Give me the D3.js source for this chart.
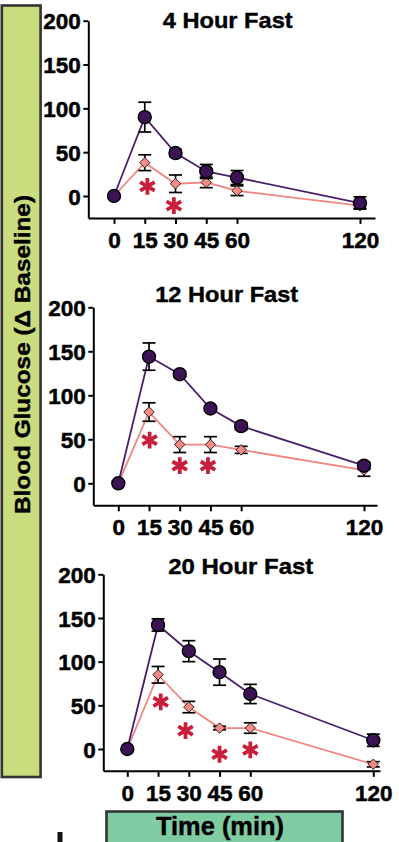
<!DOCTYPE html>
<html>
<head>
<meta charset="utf-8">
<script src="https://cdn.jsdelivr.net/npm/d3@7"></script>
<style>
  body { margin: 0; background: #fff; }
  svg { display: block; font-family: "Liberation Sans", Arial, sans-serif; font-weight: bold; }
</style>
</head>
<body>
<svg id="chart" width="399" height="842"></svg>
<script>
// Sampling times (min) and axis ticks
const times = [0, 15, 30, 45, 60, 120];
const xTickLabels = ["0", "15", "30", "45", "60", "120"];
const yTicks = [0, 50, 100, 150, 200];
const yMin = -25, yMax = 200;

const panelTitles = ["4 Hour Fast", "12 Hour Fast", "20 Hour Fast"];

// Blood glucose change from baseline (mean, error) — dark series
const dark4h = [0, 90, 49, 28, 21, -8];
const dark4hErr = [0, 17, 4, 8, 8, 7];
const dark12h = [0, 144, 124, 85, 65, 20];
const dark12hErr = [0, 15.5, 3, 3, 4, 4];
const dark20h = [0, 142, 112, 88, 63, 10];
const dark20hErr = [0, 7, 12, 15, 11, 7];

// Blood glucose change from baseline (mean, error) — light series
const light4h = [0, 38, 14, 15.5, 6, -11];
const light4hErr = [0, 9, 10, 6, 5.5, 3];
const light12h = [0, 81, 44, 44, 38, 15];
const light12hErr = [0, 10.5, 9, 9, 4, 7];
const light20h = [0, 85, 48, 24, 24, -17.5];
const light20hErr = [0, 9.5, 6.5, 2, 6, 3];

// Significance markers: [time, glucose level at which the star sits]
const stars4h = [[16.3, 11], [29.2, -11]];
const stars12h = [[15.3, 49], [30, 20], [43.8, 20]];
const stars20h = [[16.3, 54], [28.4, 21], [45, -6], [60, -1]];

const yAxisTitle = "Blood Glucose (\u0394 Baseline)";
const xAxisTitle = "Time (min)";

const darkSeries = [dark4h, dark12h, dark20h];
const darkErrors = [dark4hErr, dark12hErr, dark20hErr];
const lightSeries = [light4h, light12h, light20h];
const lightErrors = [light4hErr, light12hErr, light20hErr];
const starSets = [stars4h, stars12h, stars20h];

// Panel placement on the page
const panels = [
  { left: 88.3, right: 375, x0: 114, x120: 360, yTop: 20.7, yZero: 196, titleX: 227.7, titleY: 28.3, titleLen: 130 },
  { left: 93.3, right: 377, x0: 118.3, x120: 364, yTop: 307.3, yZero: 483.3, titleX: 226.7, titleY: 301.7, titleLen: 143 },
  { left: 103.3, right: 380, x0: 127.3, x120: 373.3, yTop: 574.3, yZero: 749, titleX: 240.8, titleY: 574, titleLen: 145 }
];

const colors = {
  dark: "#3c1456", darkLine: "#4a1f6c",
  light: "#f28a85", lightLine: "#f08581",
  star: "#c8203a", axis: "#000"
};

const svg = d3.select("#chart");

// Heavy text helper: bold glyphs with a thin matching outline
function heavy(sel, w) {
  return sel.attr("fill", "#000").attr("stroke", "#000").attr("stroke-width", w).attr("paint-order", "stroke");
}

// Side label boxes
svg.append("rect")
  .attr("x", 1.8).attr("y", 5.5).attr("width", 38.8).attr("height", 771.5)
  .attr("fill", "#c9dc7e").attr("stroke", "#333").attr("stroke-width", 2.6);
heavy(svg.append("text")
  .attr("transform", "translate(29.5,354.5) rotate(-90)")
  .attr("text-anchor", "middle")
  .attr("font-size", 22.5)
  .attr("textLength", 319).attr("lengthAdjust", "spacingAndGlyphs")
  .text(yAxisTitle), 0.4);

svg.append("rect")
  .attr("x", 106.5).attr("y", 811.5).attr("width", 236).attr("height", 45)
  .attr("fill", "#7fcba2").attr("stroke", "#333").attr("stroke-width", 2.6);
heavy(svg.append("text")
  .attr("x", 220).attr("y", 835)
  .attr("text-anchor", "middle")
  .attr("font-size", 25)
  .attr("textLength", 128).attr("lengthAdjust", "spacingAndGlyphs")
  .text(xAxisTitle), 0.4);

svg.append("rect")
  .attr("x", 57.5).attr("y", 832).attr("width", 5).attr("height", 10)
  .attr("fill", "#111");

panels.forEach((p, i) => {
  // x: minutes -> px, extended to the drawn axis span
  const base = d3.scaleLinear().domain([0, 120]).range([p.x0, p.x120]);
  const x = d3.scaleLinear().domain([base.invert(p.left), base.invert(p.right)]).range([p.left, p.right]);
  // y: glucose -> px
  const yBase = d3.scaleLinear().domain([0, 200]).range([p.yZero, p.yTop]);
  const y = d3.scaleLinear().domain([yMin, yMax]).range([yBase(yMin), yBase(yMax)]);

  const g = svg.append("g");

  // Axes
  const yAxis = d3.axisLeft(y).tickValues(yTicks).tickSize(5).tickSizeOuter(0).tickPadding(2.5);
  const gy = g.append("g").attr("transform", `translate(${p.left},0)`).call(yAxis);
  const xAxis = d3.axisBottom(x).tickValues(times)
    .tickFormat((d, k) => xTickLabels[k]).tickSize(6).tickSizeOuter(0);
  const gx = g.append("g").attr("transform", `translate(0,${y(yMin)})`).call(xAxis);

  [gx, gy].forEach(a => {
    a.select(".domain").attr("stroke", colors.axis).attr("stroke-width", 2);
    a.selectAll(".tick line").attr("stroke", colors.axis).attr("stroke-width", 2);
    heavy(a.selectAll(".tick text")
      .attr("font-size", 22.5)
      .attr("font-family", "'Liberation Sans', Arial, sans-serif")
      .attr("font-weight", "bold"), 0.5);
  });
  gx.selectAll(".tick text").attr("y", 30).attr("dy", 0);
  gy.selectAll(".tick text").attr("dy", "0.36em");

  // Title
  heavy(g.append("text")
    .attr("x", p.titleX).attr("y", p.titleY)
    .attr("text-anchor", "middle")
    .attr("font-size", 21.5)
    .attr("textLength", p.titleLen).attr("lengthAdjust", "spacingAndGlyphs")
    .text(panelTitles[i]), 0.4);

  const line = d3.line().x((d, k) => x(times[k])).y(d => y(d));

  function errorBars(vals, errs) {
    const eb = g.append("g").attr("stroke", "#000").attr("stroke-width", 1.7).attr("fill", "none");
    vals.forEach((v, k) => {
      const e = errs[k];
      if (!e) return;
      const cx = x(times[k]);
      eb.append("line").attr("x1", cx).attr("x2", cx).attr("y1", y(v - e)).attr("y2", y(v + e));
      eb.append("line").attr("x1", cx - 6.5).attr("x2", cx + 6.5).attr("y1", y(v + e)).attr("y2", y(v + e));
      eb.append("line").attr("x1", cx - 6.5).attr("x2", cx + 6.5).attr("y1", y(v - e)).attr("y2", y(v - e));
    });
  }

  // Light series
  g.append("path").datum(lightSeries[i]).attr("d", line)
    .attr("fill", "none").attr("stroke", colors.lightLine).attr("stroke-width", 1.8);
  errorBars(lightSeries[i], lightErrors[i]);
  g.append("g").selectAll("path").data(lightSeries[i]).join("path")
    .attr("d", d3.symbol(d3.symbolSquare, 54))
    .attr("transform", (d, k) => `translate(${x(times[k])},${y(d)}) rotate(45)`)
    .attr("fill", colors.light).attr("stroke", "#2a1a1a").attr("stroke-width", 0.9);

  // Dark series
  g.append("path").datum(darkSeries[i]).attr("d", line)
    .attr("fill", "none").attr("stroke", colors.darkLine).attr("stroke-width", 1.8);
  errorBars(darkSeries[i], darkErrors[i]);
  g.append("g").selectAll("circle").data(darkSeries[i]).join("circle")
    .attr("cx", (d, k) => x(times[k])).attr("cy", d => y(d)).attr("r", 6.5)
    .attr("fill", colors.dark).attr("stroke", "#000").attr("stroke-width", 1.4);

  // Significance stars
  g.append("g").selectAll("path").data(starSets[i]).join("path")
    .attr("d", d3.symbol(d3.symbolAsterisk, 200))
    .attr("transform", d => `translate(${x(d[0])},${y(d[1])})`)
    .attr("fill", "none").attr("stroke", colors.star).attr("stroke-width", 3.8);
});
</script>
</body>
</html>
